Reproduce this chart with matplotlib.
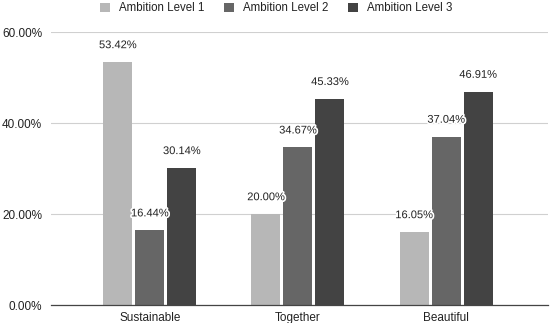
import numpy as np
import matplotlib.pyplot as plt
import matplotlib.patheffects as pe

### DATA
### ------------------
categories = ['Sustainable', 'Together', 'Beautiful']
series_labels = ['Ambition Level 1', 'Ambition Level 2', 'Ambition Level 3']
level1 = [53.42, 20.00, 16.05]
level2 = [16.44, 34.67, 37.04]
level3 = [30.14, 45.33, 46.91]
y_ticks = [0, 20, 40, 60]

colors = ['#b7b7b7', '#666666', '#434343']

### PLOT
### ------------------
plt.rcParams['font.family'] = ['Liberation Sans', 'DejaVu Sans']

fig = plt.figure(figsize=(5.5, 3.23), dpi=100)
ax = fig.add_axes([0.093, 0.0557, 0.904, 0.845])

x = np.arange(len(categories))
width = 0.196
pitch = 0.216
offsets = [-pitch, 0, pitch]
for index, values in enumerate([level1, level2, level3]):
    bars = ax.bar(x + offsets[index], values, width=width, color=colors[index],
                  edgecolor='none', label=series_labels[index], zorder=3)
    for b, v in zip(bars, values):
        ax.text(b.get_x() + b.get_width() / 2, v + 3.7, '%.2f%%' % v,
                ha='center', va='center', fontsize=8, color='#222222', zorder=4,
                path_effects=[pe.withStroke(linewidth=2.5, foreground='white')])

ax.set_xlim(-0.666, 2.69)
ax.set_ylim(0, 60)
ax.set_yticks(y_ticks)
ax.set_yticklabels(['%.2f%%' % t for t in y_ticks])
ax.set_xticks(x)
ax.set_xticklabels(categories)
ax.tick_params(axis='both', length=0, labelsize=8.5, colors='#222222')
ax.tick_params(axis='y', pad=6.5)
ax.tick_params(axis='x', pad=5)
ax.grid(axis='y', color='#d0d0d0', linewidth=0.8, zorder=0)
for s in ['top', 'right', 'left']:
    ax.spines[s].set_visible(False)
ax.spines['bottom'].set_color('#444444')
ax.spines['bottom'].set_linewidth(0.9)
ax.spines['bottom'].set_zorder(5)

fig.legend(loc='upper center', bbox_to_anchor=(0.502, 1.025), ncol=3, frameon=False,
           fontsize=8.3, handlelength=0.85, handleheight=0.85, handletextpad=0.8,
           columnspacing=1.7, labelcolor='#222222')

plt.savefig('out.png', dpi=100)
